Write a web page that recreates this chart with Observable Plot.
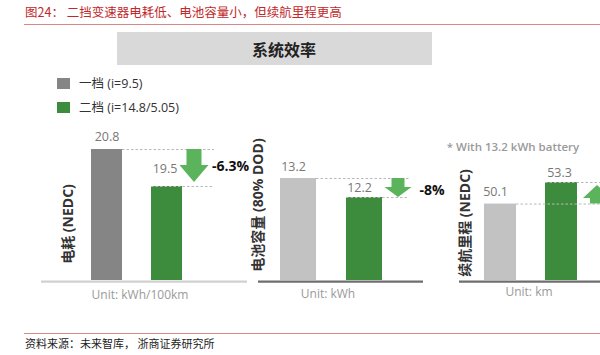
<!DOCTYPE html>
<html><head><meta charset="utf-8">
<script src="https://cdn.jsdelivr.net/npm/d3@7"></script>
<script src="https://cdn.jsdelivr.net/npm/@observablehq/plot@0.6"></script>
<style>
body{margin:0;background:#fff;}
#wrap{position:relative;width:600px;height:355px;overflow:hidden;background:#fff;font-family:"Open Sans","Noto Sans CJK SC",sans-serif;}
</style></head><body><div id="wrap"></div>
<script>
// ---- data ----
const gears = ["一档", "二档"];
const legendLabels = ["一档 (i=9.5)", "二档 (i=14.8/5.05)"];
const consumption = [20.8, 19.5];   // kWh/100km
const capacity = [13.2, 12.2];      // kWh
const rangeKm = [50.1, 53.3];       // km
const changes = ["-6.3%", "-8%"];
const yLabels = ["电耗 (NEDC)", "电池容量 (80% DOD)", "续航里程 (NEDC)"];
const units = ["Unit: kWh/100km", "Unit: kWh", "Unit: km"];
const titleText = "图24：  二挡变速器电耗低、电池容量小，但续航里程更高";
const boxTitle = "系统效率";
const noteText = "* With 13.2 kWh battery";
const sourceText = "资料来源：未来智库， 浙商证券研究所";

const GREEN = "#3d8c3d", ARROW = "#5bb35b";
const wrap = document.getElementById("wrap");

function html(text, x, y, css, align = "center", rot = 0) {
  const d = document.createElement("div");
  d.textContent = text;
  const tx = align === "center" ? "-50%" : align === "right" ? "-100%" : "0";
  d.style.cssText = `position:absolute;left:${x}px;top:${y}px;white-space:nowrap;line-height:1;transform:translate(${tx},-50%)${rot ? ` rotate(${rot}deg)` : ""};${css}`;
  wrap.appendChild(d);
  return d;
}
function box(x, y, w, h, css) {
  const d = document.createElement("div");
  d.style.cssText = `position:absolute;left:${x}px;top:${y}px;width:${w}px;height:${h}px;${css}`;
  wrap.appendChild(d);
}

// header / footer
html(titleText, 25, 12, 'font-family:"Noto Sans CJK SC",sans-serif;font-size:12.5px;color:#c0282a;', "left");
box(24, 24, 576, 1, "background:#d98a86;");
box(24, 333, 576, 1, "background:#d98a86;");
html(sourceText, 25, 343, 'font-family:"Noto Sans CJK SC",sans-serif;font-size:11px;color:#222;', "left");
box(117, 32, 315, 33, "background:#d9d9d9;");
html(boxTitle, 284, 49, 'font-family:"Noto Sans CJK SC",sans-serif;font-size:16px;font-weight:700;color:#222;');

// legend
box(57, 78, 13, 11, "background:#858585;");
box(57, 102, 13, 11, `background:${GREEN};`);
html(legendLabels[0], 79, 84, "font-size:12.5px;color:#333;", "left");
html(legendLabels[1], 79, 108, "font-size:12.5px;color:#333;", "left");

// panel texts
html(yLabels[0], 68, 224, "font-size:14px;font-weight:700;color:#333;", "center", -90);
html(yLabels[1], 258, 205, "font-size:14px;font-weight:700;color:#333;", "center", -90);
html(yLabels[2], 465, 223, "font-size:14px;font-weight:700;color:#333;", "center", -90);
html(units[0], 140, 295, "font-size:12px;color:#9a9a9a;");
html(units[1], 328, 294, "font-size:12px;color:#9a9a9a;");
html(units[2], 529, 292, "font-size:12px;color:#9a9a9a;");
html(noteText, 513, 147, "font-size:11.5px;font-weight:600;color:#9a9a9a;");

// ---- panels ----
const panels = [
  {values: consumption, base: 16.2, top: 149, xRange: [60.5, 212], padding: 0.484, frame: [41, 247],
   baseline: "#d0d0d0", gray: "#858585", dashEnd: 214, arrowX: 194, shaft: 15, head: 29, headLen: 17, tipInset: 4,
   change: changes[0], changeDx: 45, changeDy: -1, labelDy: [-13, -18], labelDx: [0, -2]},
  {values: capacity, base: 7.83, top: 178, xRange: [249, 413], padding: 0.448, frame: [258, 423],
   baseline: "#6e6e6e", gray: "#c2c2c2", dashEnd: 409, arrowX: 398, shaft: 13, head: 27, headLen: 10, tipInset: 0,
   change: changes[1], changeDx: 55, changeDy: 2.5, labelDy: [-12, -9], labelDx: [-5, -5]},
  {values: rangeKm, base: 38.75, top: 182, xRange: [454, 607], padding: 0.468, frame: [459, 600],
   baseline: "#6e6e6e", gray: "#c2c2c2", dashEnd: 600, arrowX: 597, shaft: 14, head: 28, headLen: 13, tipInset: 3,
   change: null, labelDy: [-12, -10], labelDx: [-5, -2]}
];

function decor(p) {
  return (index, scales) => {
    const x = scales.x, y = scales.y;
    let bw;
    if (typeof x.bandwidth === "function") bw = x.bandwidth();
    else if (typeof x.bandwidth === "number") bw = x.bandwidth;
    else if (scales.scales && scales.scales.x && scales.scales.x.bandwidth != null) bw = scales.scales.x.bandwidth;
    else bw = d3.scaleBand(gears, p.xRange).padding(p.padding).bandwidth();
    const g = d3.create("svg:g");
    const y0 = y(p.values[0]), y1 = y(p.values[1]);
    const dash = (xa, xb, yy) => g.append("line").attr("x1", xa).attr("x2", xb).attr("y1", yy).attr("y2", yy)
      .attr("stroke", "#b8b8b8").attr("stroke-width", 1).attr("stroke-dasharray", "2.5,2");
    dash(x(gears[0]) + bw, p.dashEnd, y0 + 0.5);
    dash(x(gears[1]), p.dashEnd, y1 + 0.5);
    const dir = Math.sign(y1 - y0);
    const tip = y1 - dir * p.tipInset, hs = tip - dir * p.headLen;
    const cx = p.arrowX, sw = p.shaft / 2, hw = p.head / 2;
    const pts = [[cx - sw, y0], [cx + sw, y0], [cx + sw, hs], [cx + hw, hs], [cx, tip], [cx - hw, hs], [cx - sw, hs]];
    g.append("polygon").attr("points", pts.map(q => q.join(",")).join(" ")).attr("fill", ARROW);
    return g.node();
  };
}

panels.forEach(p => {
  const data = gears.map((gear, i) => ({gear, value: p.values[i], i}));
  const marks = [
    Plot.barY(data, {x: "gear", y1: () => p.base, y2: "value", fill: "gear"}),
    Plot.ruleY([p.base], {stroke: p.baseline, strokeWidth: 2.2, dy: 1.2}),
    decor(p),
    Plot.text(data.filter(d => d.i === 0), {x: "gear", y: "value", text: d => d.value.toFixed(1), dy: p.labelDy[0], dx: p.labelDx[0], fill: "#777", fontSize: 12.5}),
    Plot.text(data.filter(d => d.i === 1), {x: "gear", y: "value", text: d => d.value.toFixed(1), dy: p.labelDy[1], dx: p.labelDx[1], fill: "#777", fontSize: 12.5})
  ];
  if (p.change) {
    marks.push(Plot.text([p.change], {x: () => gears[1], y: () => (p.values[0] + p.values[1]) / 2, text: d => d,
      dx: p.changeDx, dy: p.changeDy, textAnchor: "start", fontWeight: "bold", fontSize: 14, fill: "#111"}));
  }
  const svg = Plot.plot({
    width: 600, height: 355,
    marginLeft: p.frame[0], marginRight: 600 - p.frame[1], marginTop: 0, marginBottom: 0,
    x: {type: "band", domain: gears, range: p.xRange, padding: p.padding, axis: null},
    y: {domain: [p.base, p.values[0] > p.values[1] ? p.values[0] : p.values[1]], range: [280, p.top], axis: null},
    color: {domain: gears, range: [p.gray, GREEN]},
    style: {fontFamily: '"Open Sans","Noto Sans CJK SC",sans-serif', background: "none", overflow: "visible"},
    marks
  });
  svg.style.position = "absolute";
  svg.style.left = "0px";
  svg.style.top = "0px";
  wrap.appendChild(svg);
});
</script>
</body></html>
